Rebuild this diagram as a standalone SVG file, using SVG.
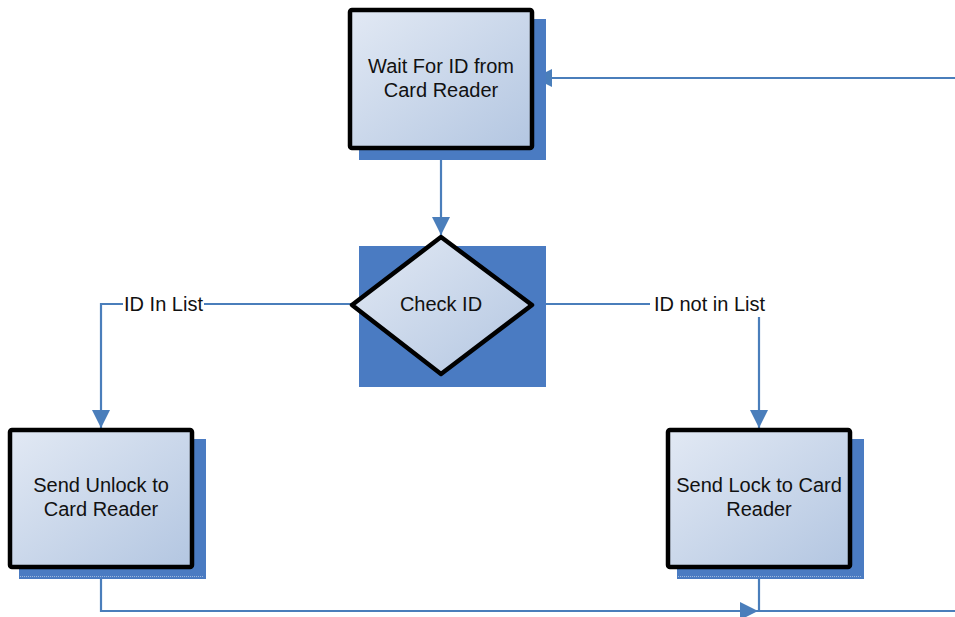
<svg xmlns="http://www.w3.org/2000/svg" width="955" height="617" viewBox="0 0 955 617">
  <defs>
    <linearGradient id="fillGrad" x1="0" y1="0" x2="1" y2="1">
      <stop offset="0" stop-color="#e2e9f4"/>
      <stop offset="1" stop-color="#b3c6e1"/>
    </linearGradient>
    <marker id="arrow" markerUnits="userSpaceOnUse" markerWidth="20" markerHeight="18" refX="18" refY="9" orient="auto">
      <path d="M0,0 L18,9 L0,18 Z" fill="#4a7ebb"/>
    </marker>
  </defs>
  <style>
    .shadow { fill: #4a7bc2; }
    .shadow-edge { stroke: #9fb8de; stroke-width: 1; stroke-dasharray: 1 1; fill: none; }
    .shape { fill: url(#fillGrad); stroke: #000; stroke-width: 4.5; stroke-linejoin: round; }
    .label { font-family: "Liberation Sans", Arial, sans-serif; font-size: 20px; fill: #111; text-anchor: middle; }
    .conn { fill: none; stroke: #4a7ebb; stroke-width: 2.2; }
    .tag-bg { fill: #fff; }
  </style>

  <rect width="955" height="617" fill="#fff"/>

  <!-- connectors -->
  <g id="connectors">
    <path class="conn" d="M441,150 L441,235" marker-end="url(#arrow)"/>
    <path class="conn" d="M351,304 L101,304 L101,428" marker-end="url(#arrow)"/>
    <path class="conn" d="M533,304 L759,304 L759,428" marker-end="url(#arrow)"/>
    <path class="conn" d="M101,568 L101,611 L758,611" marker-end="url(#arrow)"/>
    <path class="conn" d="M759,568 L759,611 L958,611 L958,78 L534,78" marker-end="url(#arrow)"/>
    <rect class="tag-bg" x="123" y="292" width="81" height="22"/>
    <text class="label" x="163.5" y="311">ID In List</text>
    <rect class="tag-bg" x="650" y="292" width="119" height="25"/>
    <text class="label" x="709.5" y="311">ID not in List</text>
  </g>

  <!-- process: wait for ID -->
  <g id="wait-for-id">
    <rect class="shadow" x="359" y="19" width="187" height="141"/>
    <rect class="shape" x="350" y="10" width="182" height="138" rx="2"/>
    <text class="label" x="441" y="73">Wait For ID from</text>
    <text class="label" x="441" y="97">Card Reader</text>
  </g>

  <!-- decision: check ID -->
  <g id="check-id">
    <rect class="shadow" x="359" y="246" width="187" height="141"/>
    <polygon class="shape" points="441,237 532,305 441,374 352,305"/>
    <text class="label" x="441" y="311">Check ID</text>
  </g>

  <!-- process: send unlock -->
  <g id="send-unlock">
    <rect class="shadow" x="19" y="439" width="187" height="140"/>
    <line class="shadow-edge" x1="20" y1="576.5" x2="203" y2="576.5"/>
    <rect class="shape" x="10" y="430" width="182" height="137" rx="2"/>
    <text class="label" x="101" y="492">Send Unlock to</text>
    <text class="label" x="101" y="516">Card Reader</text>
  </g>

  <!-- process: send lock -->
  <g id="send-lock">
    <rect class="shadow" x="677" y="439" width="187" height="140"/>
    <line class="shadow-edge" x1="678" y1="576.5" x2="861" y2="576.5"/>
    <rect class="shape" x="668" y="430" width="182" height="137" rx="2"/>
    <text class="label" x="759" y="492">Send Lock to Card</text>
    <text class="label" x="759" y="516">Reader</text>
  </g>
</svg>
